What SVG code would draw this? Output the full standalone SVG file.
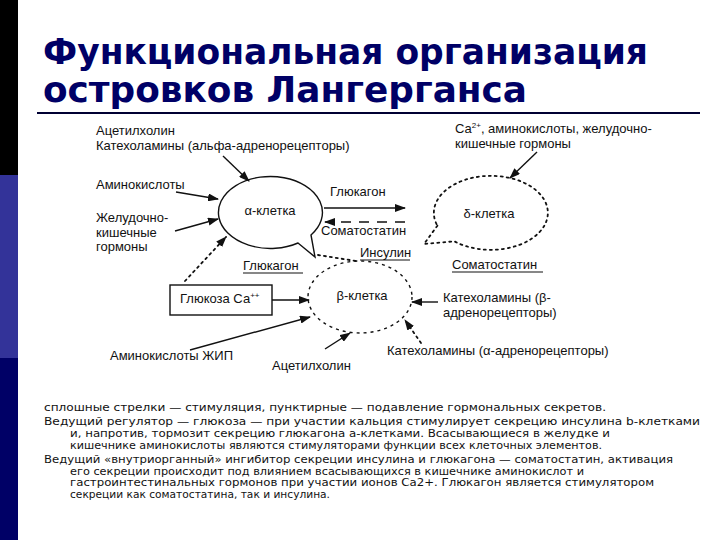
<svg xmlns="http://www.w3.org/2000/svg" width="720" height="540" viewBox="0 0 720 540">
<defs>
<marker id="ah" markerUnits="userSpaceOnUse" markerWidth="11" markerHeight="8" refX="10" refY="4" orient="auto">
<path d="M0,0 L11,4 L0,8 z" fill="#111"/>
</marker>
<style>
.t{font-family:"Liberation Sans",Arial,sans-serif;font-size:13px;fill:#111}
.c{text-anchor:middle}
.ttl{font-family:"DejaVu Sans",Verdana,sans-serif;font-weight:bold;font-size:35px;fill:#000066}
.b{font-family:"DejaVu Sans",Tahoma,sans-serif;font-size:10px;fill:#111}
.s{fill:none;stroke:#111;stroke-width:1.4}
.ar{marker-end:url(#ah)}
.dot{stroke-dasharray:2 4;stroke-linecap:round;stroke-width:1.8}
.dash{stroke-dasharray:10 8}
.ul{stroke:#111;stroke-width:1.2}
</style>
</defs>
<rect width="720" height="540" fill="#fff"/>
<rect x="0" y="0" width="18" height="175" fill="#000"/>
<rect x="0" y="175" width="18" height="183" fill="#333399"/>
<rect x="0" y="358" width="18" height="182" fill="#000066"/>
<g id="title">
<text class="ttl" x="43" y="64" textLength="605" lengthAdjust="spacingAndGlyphs">Функциональная организация</text>
<text class="ttl" x="43" y="102" textLength="484" lengthAdjust="spacingAndGlyphs">островков Лангерганса</text>
<line x1="37" y1="113" x2="700" y2="113" stroke="#000033" stroke-width="2"/>
</g>
<g id="alpha-cell">
<path class="s" d="M311,235 L315,257 L298,243 A52,36 0 1 1 311,235 Z"/>
<text class="t c" x="270" y="215">α-клетка</text>
</g>
<g id="delta-cell">
<path class="s dot" d="M437.4,225.7 L424,244 L454.4,241.3 A57,37 0 1 0 437.4,225.7"/>
<text class="t c" x="489" y="218">δ-клетка</text>
</g>
<g id="beta-cell">
<ellipse class="s" cx="360" cy="297" rx="52" ry="36" stroke-dasharray="3 4" stroke-width="1.5"/>
<text class="t c" x="362" y="300">β-клетка</text>
</g>
<g id="glucose-box">
<rect class="s" x="170" y="285" width="102" height="30" stroke-width="1.3"/>
<text class="t" x="180" y="303">Глюкоза Са<tspan font-size="8" dy="-5">++</tspan></text>
</g>
<g id="labels">
<text class="t" x="96" y="135">Ацетилхолин</text>
<text class="t" x="96" y="150">Катехоламины (альфа-адренорецепторы)</text>
<text class="t" x="96" y="189">Аминокислоты</text>
<text class="t" x="96" y="222">Желудочно-</text>
<text class="t" x="96" y="237">кишечные</text>
<text class="t" x="96" y="251">гормоны</text>
<text class="t" x="330" y="196">Глюкагон</text>
<text class="t" x="321" y="235">Соматостатин</text>
<text class="t" x="360" y="257">Инсулин</text>
<line class="ul" x1="360" y1="260" x2="410" y2="260"/>
<text class="t" x="243" y="270">Глюкагон</text>
<line class="ul" x1="243" y1="273" x2="303" y2="273"/>
<text class="t" x="452" y="269">Соматостатин</text>
<line class="ul" x1="452" y1="272" x2="543" y2="272"/>
<text class="t" x="455" y="133">Са<tspan font-size="8" dy="-5">2+</tspan><tspan dy="5">, аминокислоты, желудочно-</tspan></text>
<text class="t" x="455" y="148">кишечные гормоны</text>
<text class="t" x="443" y="302">Катехоламины (β-</text>
<text class="t" x="443" y="317">адренорецепторы)</text>
<text class="t" x="387" y="355">Катехоламины (α-адренорецепторы)</text>
<text class="t" x="110" y="360">Аминокислоты ЖИП</text>
<text class="t" x="272" y="370">Ацетилхолин</text>
</g>
<g id="connectors">
<line class="s ar" x1="223" y1="156" x2="249" y2="181"/>
<line class="s ar" x1="176" y1="192" x2="218" y2="199"/>
<line class="s ar" x1="175" y1="231" x2="218" y2="219"/>
<line class="s dot ar" x1="185" y1="281" x2="226" y2="237"/>
<line class="s ar" x1="324" y1="208" x2="405" y2="208"/>
<line class="s dash ar" x1="405" y1="222" x2="325" y2="222"/>
<line class="s dot" x1="318" y1="255" x2="356" y2="261"/>
<line class="s ar" x1="272" y1="300" x2="309" y2="300"/>
<line class="s ar" x1="190" y1="350" x2="310" y2="317"/>
<line class="s ar" x1="325" y1="349" x2="350" y2="333"/>
<line class="s ar" x1="438" y1="302" x2="412" y2="302"/>
<line class="s dot ar" x1="421" y1="343" x2="405" y2="320"/>
<line class="s ar" x1="537" y1="152" x2="510" y2="178"/>
</g>
<g id="notes">
<text class="b" x="44" y="411" textLength="562" lengthAdjust="spacingAndGlyphs">сплошные стрелки — стимуляция, пунктирные — подавление гормональных секретов.</text>
<text class="b" x="44" y="425" textLength="656" lengthAdjust="spacingAndGlyphs">Ведущий регулятор — глюкоза — при участии кальция стимулирует секрецию инсулина b-клетками</text>
<text class="b" x="70" y="437" textLength="540" lengthAdjust="spacingAndGlyphs">и, напротив, тормозит секрецию глюкагона a-клетками. Всасывающиеся в желудке и</text>
<text class="b" x="70" y="449" textLength="532" lengthAdjust="spacingAndGlyphs">кишечнике аминокислоты являются стимуляторами функции всех клеточных элементов.</text>
<text class="b" x="44" y="463" textLength="629" lengthAdjust="spacingAndGlyphs">Ведущий «внутриорганный» ингибитор секреции инсулина и глюкагона — соматостатин, активация</text>
<text class="b" x="70" y="474.5" textLength="514" lengthAdjust="spacingAndGlyphs">его секреции происходит под влиянием всасывающихся в кишечнике аминокислот и</text>
<text class="b" x="70" y="486" textLength="584" lengthAdjust="spacingAndGlyphs">гастроинтестинальных гормонов при участии ионов Са2+. Глюкагон является стимулятором</text>
<text class="b" x="70" y="497.5" textLength="260" lengthAdjust="spacingAndGlyphs">секреции как соматостатина, так и инсулина.</text>
</g>
</svg>
